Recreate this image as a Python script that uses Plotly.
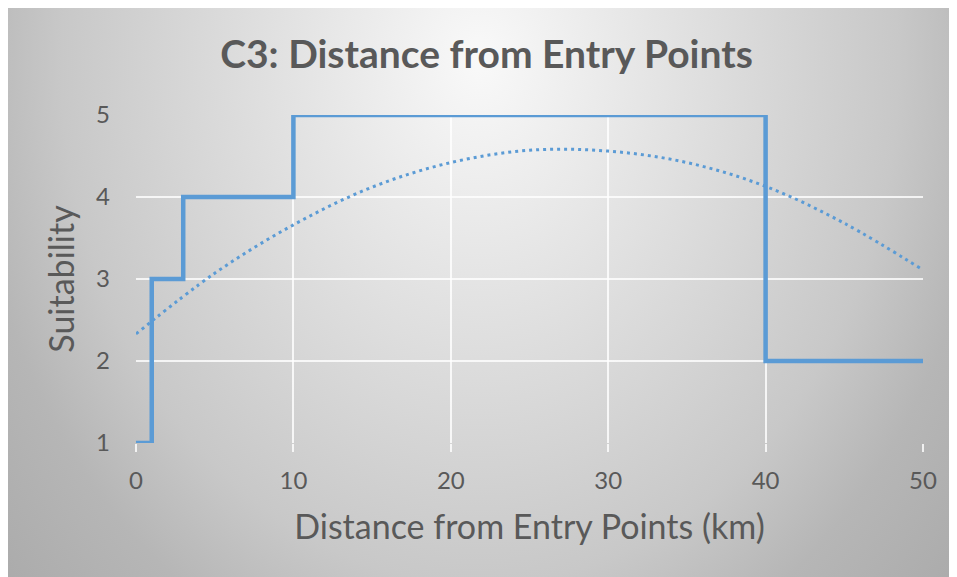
import base64
import plotly.graph_objects as go

# ---- data ----
dist_km = [0, 1, 3, 10, 40, 50]
suitability = [1, 3, 4, 5, 2, 2]

trend_x = [0, 5, 10, 15, 20, 25, 30, 35, 40, 45, 50]
trend_y = [2.33, 3.07, 3.66, 4.12, 4.42, 4.57, 4.56, 4.42, 4.13, 3.68, 3.11]

x_ticks = [0, 10, 20, 30, 40, 50]
y_ticks = [1, 2, 3, 4, 5]

TITLE = "C3: Distance from Entry Points"
X_TITLE = "Distance from Entry Points (km)"
Y_TITLE = "Suitability"

# ---- layout geometry (page has an 8px body margin) ----
W, H = 949, 569
ML, MR, MT, MB = 128, 34, 107, 134
PW, PH = W - ML - MR, H - MT - MB

svg = f'''<svg xmlns="http://www.w3.org/2000/svg" width="{W}" height="{H}" viewBox="0 0 {W} {H}" preserveAspectRatio="none">
<defs><radialGradient id="g" gradientUnits="userSpaceOnUse" cx="0" cy="0" r="1" gradientTransform="translate(472,52) scale(644,805)">
<stop offset="0" stop-color="#f9f9f9"/>
<stop offset="0.29" stop-color="#e3e3e3"/>
<stop offset="0.65" stop-color="#c8c8c8"/>
<stop offset="0.8" stop-color="#b6b6b6"/>
<stop offset="1" stop-color="#aaaaaa"/>
</radialGradient></defs>
<rect x="0" y="0" width="{W}" height="{H}" fill="url(#g)"/>
</svg>'''
uri = "data:image/svg+xml;base64," + base64.b64encode(svg.encode()).decode()

BLUE = "#5B9BD5"
TEXT = "#595959"
FONT = "Lato"
GRID = "rgba(255,255,255,0.8)"

fig = go.Figure()
fig.add_trace(go.Scatter(
    x=trend_x, y=trend_y, mode="lines",
    line=dict(color=BLUE, width=3, dash="3px,4px", shape="spline", smoothing=1.0),
    cliponaxis=False, hoverinfo="skip", showlegend=False))
fig.add_trace(go.Scatter(
    x=dist_km, y=suitability, mode="lines",
    line=dict(color=BLUE, width=4.5, shape="hv"),
    cliponaxis=False, showlegend=False))

fig.update_layout(
    width=W, height=H,
    margin=dict(l=ML, r=MR, t=MT, b=MB, pad=0),
    paper_bgcolor="white",
    plot_bgcolor="rgba(0,0,0,0)",
    font=dict(family=FONT, color=TEXT),
    title=dict(text=f"<b>{TITLE}</b>", x=478.5 / W, xanchor="center",
               y=1 - 46.5 / H, yanchor="middle",
               font=dict(family=FONT, size=39, color=TEXT)),
    images=[dict(source=uri, xref="paper", yref="paper",
                 x=-ML / PW, y=1 + MT / PH,
                 sizex=W / PW, sizey=H / PH,
                 xanchor="left", yanchor="top", sizing="stretch", layer="below")],
    xaxis=dict(range=[0, 50], tickvals=x_ticks, showgrid=True,
               gridcolor=GRID, gridwidth=1.5,
               zeroline=False, showline=False,
               ticks="outside", ticklen=8, tickwidth=1.5,
               tickcolor=GRID,
               tickfont=dict(size=24, color=TEXT), ticklabelstandoff=8,
               title=dict(text=X_TITLE, font=dict(size=34, color=TEXT), standoff=22),
               fixedrange=True),
    yaxis=dict(range=[1, 5], tickvals=y_ticks, showgrid=True,
               gridcolor=GRID, gridwidth=1.5,
               zeroline=False, showline=False, ticks="",
               tickfont=dict(size=24, color=TEXT), ticklabelstandoff=25,
               title=dict(text=Y_TITLE, font=dict(size=34, color=TEXT), standoff=11),
               fixedrange=True),
)

fig.write_html("out.html")
